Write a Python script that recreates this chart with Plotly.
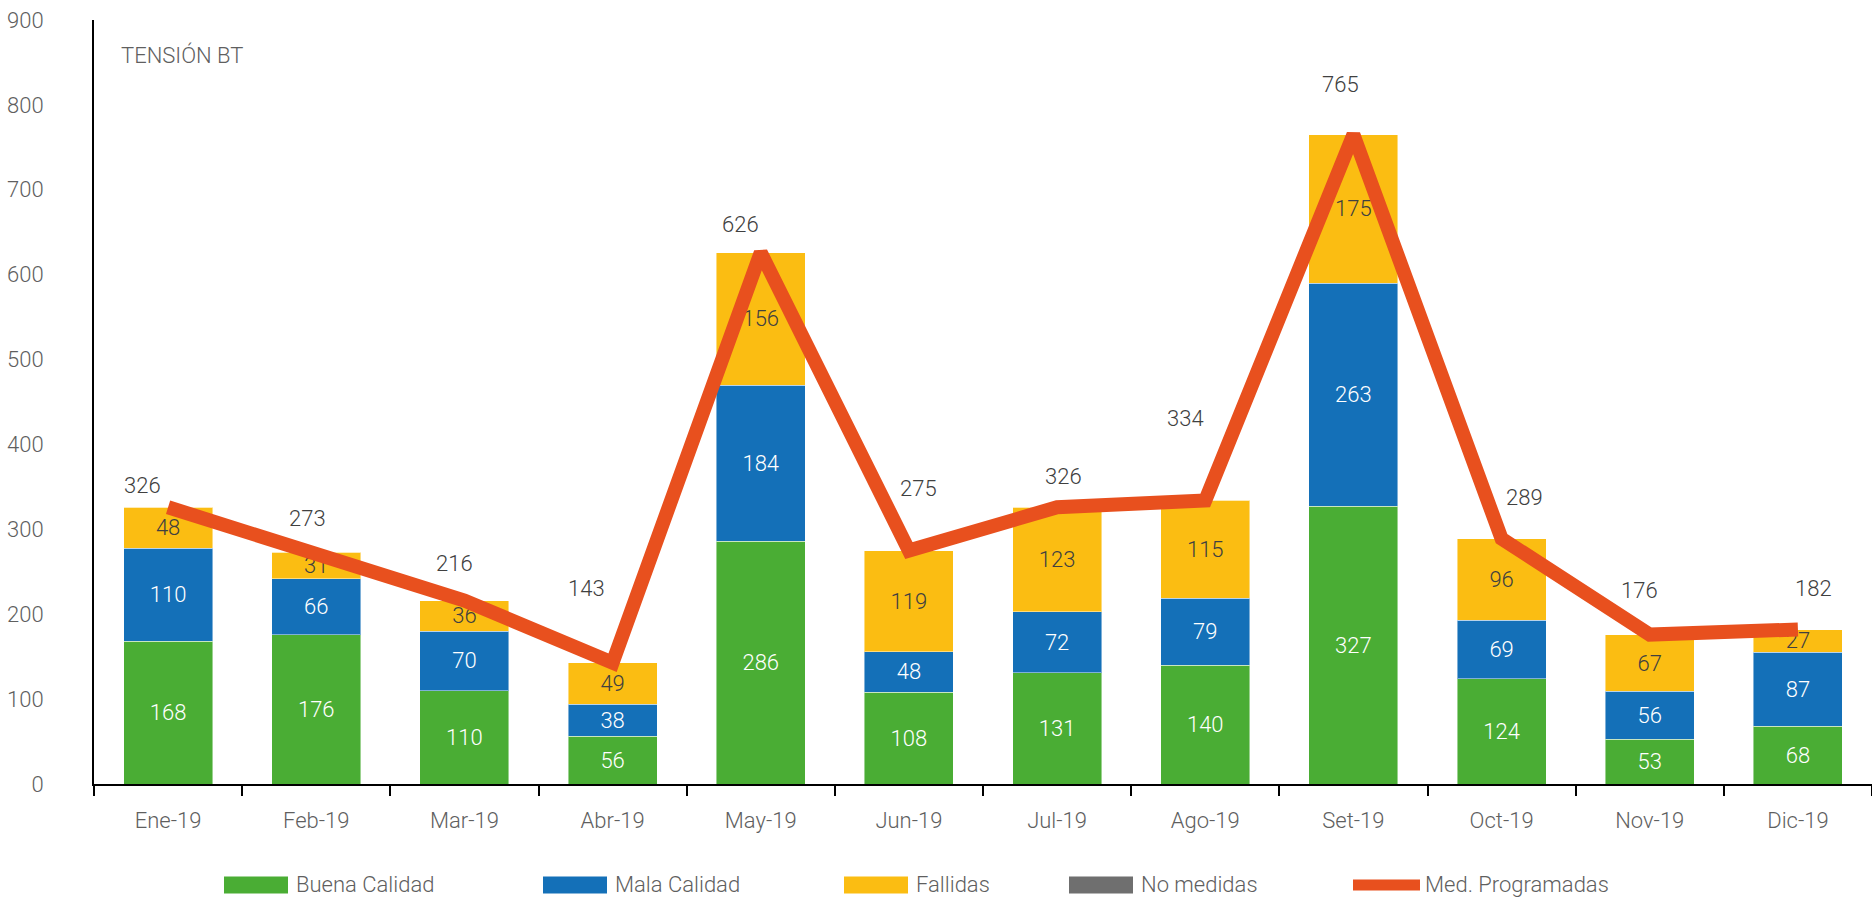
import plotly.graph_objects as go

# Datos de mediciones - Tensión BT 2019
MONTHS = ['Ene-19', 'Feb-19', 'Mar-19', 'Abr-19', 'May-19', 'Jun-19',
          'Jul-19', 'Ago-19', 'Set-19', 'Oct-19', 'Nov-19', 'Dic-19']
BUENA_CALIDAD = [168, 176, 110, 56, 286, 108, 131, 140, 327, 124, 53, 68]
MALA_CALIDAD = [110, 66, 70, 38, 184, 48, 72, 79, 263, 69, 56, 87]
FALLIDAS = [48, 31, 36, 49, 156, 119, 123, 115, 175, 96, 67, 27]
NO_MEDIDAS = [0, 0, 0, 0, 0, 0, 0, 0, 0, 0, 0, 0]
MED_PROGRAMADAS = [326, 273, 216, 143, 626, 275, 326, 334, 765, 289, 176, 182]
Y_TICKS = [0, 100, 200, 300, 400, 500, 600, 700, 800, 900]

# desplazamiento manual de las etiquetas de la linea (px)
LABEL_DX = [-26, -9, -10, -26, -20, 10, 6, -20, -13, 23, -10, 16]
LABEL_DY = [22, 34, 37, 74, 28, 62, 31, 82, 50, 41, 44, 41]

GREEN = '#4aad34'
BLUE = '#1470b8'
YELLOW = '#fbbd12'
GRAY = '#6f6f6f'
ORANGE = '#e8501e'
TEXT_GRAY = '#5f5f5f'
DARK = '#404040'
FONT = 'Roboto'
FONT_SIZE = 22
WEIGHT = 300

WIDTH, HEIGHT = 1872, 898
M_LEFT, M_TOP, M_BOTTOM, M_RIGHT = 94, 20, 114, 0


def px_to_paper_x(px):
    return (px - M_LEFT) / (WIDTH - M_LEFT - M_RIGHT)


def px_to_paper_y(py):
    return (HEIGHT - M_BOTTOM - py) / (HEIGHT - M_TOP - M_BOTTOM)


def font(color):
    return dict(family=FONT, size=FONT_SIZE, color=color, weight=WEIGHT)


def bar_trace(name, values, color, text_color, show_text=True):
    return go.Bar(
        x=MONTHS, y=values, name=name,
        marker=dict(color=color, line=dict(color='rgba(255,255,255,0.45)', width=1)),
        text=values if show_text else None,
        textposition='inside', insidetextanchor='middle', textangle=0,
        textfont=font(text_color),
        showlegend=False,
    )


fig = go.Figure()
fig.add_trace(bar_trace('Buena Calidad', BUENA_CALIDAD, GREEN, 'white'))
fig.add_trace(bar_trace('Mala Calidad', MALA_CALIDAD, BLUE, 'white'))
fig.add_trace(bar_trace('Fallidas', FALLIDAS, YELLOW, DARK))
fig.add_trace(bar_trace('No medidas', NO_MEDIDAS, GRAY, 'white', show_text=False))
fig.add_trace(go.Scatter(
    x=MONTHS, y=MED_PROGRAMADAS, name='Med. Programadas', mode='lines',
    line=dict(color=ORANGE, width=14), showlegend=False,
))

# etiquetas de total sobre la linea
for month, total, dx, dy in zip(MONTHS, MED_PROGRAMADAS, LABEL_DX, LABEL_DY):
    fig.add_annotation(x=month, y=total, text=str(total), showarrow=False,
                       xshift=dx, yshift=dy, font=font(DARK))

fig.add_annotation(text='TENSIÓN BT', xref='paper', yref='paper',
                   x=px_to_paper_x(119), y=px_to_paper_y(55),
                   xanchor='left', yanchor='middle', showarrow=False,
                   font=font(TEXT_GRAY))

# leyenda dibujada a mano (muestras anchas como en el original)
LEGEND_ITEMS = [('Buena Calidad', GREEN, 'rect'), ('Mala Calidad', BLUE, 'rect'),
                ('Fallidas', YELLOW, 'rect'), ('No medidas', GRAY, 'rect'),
                ('Med. Programadas', ORANGE, 'line')]
LEGEND_X = [(224, 288), (543, 607), (844, 908), (1069, 1133), (1353, 1420)]
legend_y = 885
for (label, color, kind), (x0, x1) in zip(LEGEND_ITEMS, LEGEND_X):
    if kind == 'rect':
        fig.add_shape(type='rect', xref='paper', yref='paper',
                      x0=px_to_paper_x(x0), x1=px_to_paper_x(x1),
                      y0=px_to_paper_y(legend_y + 8.5), y1=px_to_paper_y(legend_y - 8.5),
                      fillcolor=color, line=dict(width=0))
        text_x = x1 + 6
    else:
        fig.add_shape(type='line', xref='paper', yref='paper',
                      x0=px_to_paper_x(x0), x1=px_to_paper_x(x1),
                      y0=px_to_paper_y(legend_y), y1=px_to_paper_y(legend_y),
                      line=dict(color=color, width=11))
        text_x = x1 + 3
    fig.add_annotation(text=label, xref='paper', yref='paper',
                       x=px_to_paper_x(text_x), y=px_to_paper_y(legend_y),
                       xanchor='left', yanchor='middle', showarrow=False,
                       font=font(TEXT_GRAY))

fig.update_layout(
    barmode='stack',
    bargap=0.4,
    width=WIDTH, height=HEIGHT,
    margin=dict(l=M_LEFT, r=M_RIGHT, t=M_TOP, b=M_BOTTOM),
    plot_bgcolor='white', paper_bgcolor='white',
    font=font(TEXT_GRAY),
    uniformtext=dict(minsize=FONT_SIZE, mode='show'),
    xaxis=dict(
        type='category',
        showline=True, linecolor='black', linewidth=2,
        ticks='outside', tickson='boundaries', ticklen=10, tickwidth=2, tickcolor='black',
        ticklabelstandoff=16,
        showgrid=False, zeroline=False,
        tickfont=font(TEXT_GRAY),
    ),
    yaxis=dict(
        range=[0, 900], tickvals=Y_TICKS,
        showline=True, linecolor='black', linewidth=2,
        ticks='', ticklabelstandoff=44,
        showgrid=False, zeroline=False,
        tickfont=font(TEXT_GRAY),
    ),
)

fig.write_html('out.html', config={'displayModeBar': False},
               post_script="document.body.style.margin='0';")
